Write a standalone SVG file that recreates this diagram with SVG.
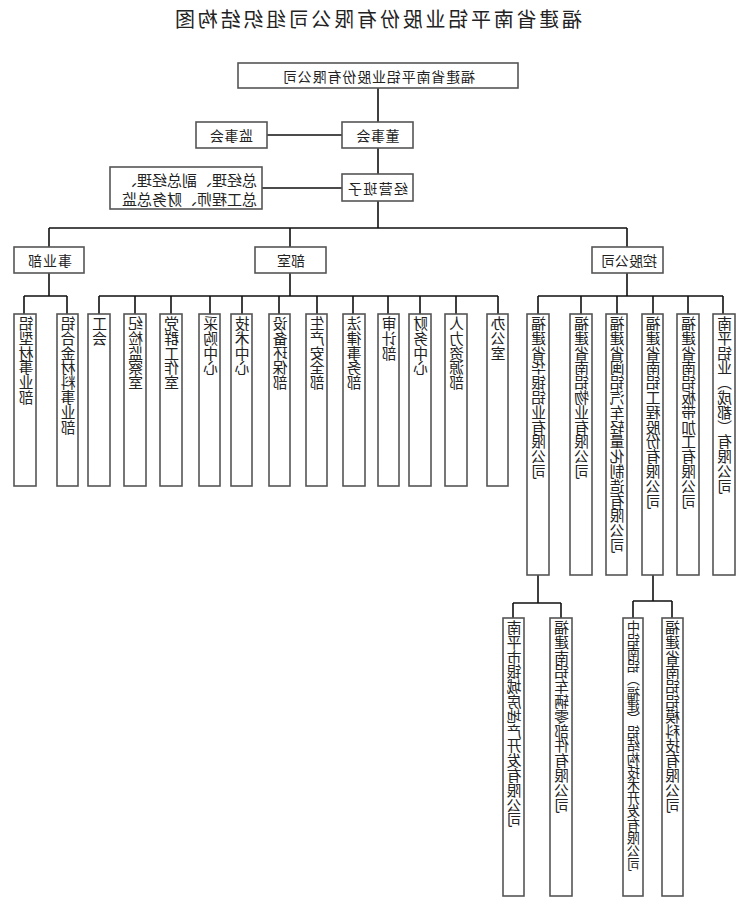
<svg xmlns="http://www.w3.org/2000/svg" width="737" height="900" viewBox="0 0 737 900">
<style>
  .bg { fill: #ffffff; }
  .box { fill: #ffffff; stroke: #555555; stroke-width: 1.6; }
  .con { fill: none; stroke: #111111; stroke-width: 1.6; }
  text { font-family: "Noto Sans CJK SC", "Noto Sans CJK TC", "DejaVu Sans", sans-serif; fill: #222222; }
  .h { font-size: 14px; text-anchor: middle; dominant-baseline: central; }
  .title { font-size: 20px; text-anchor: middle; dominant-baseline: central; }
  .mg { font-size: 15px; text-anchor: start; dominant-baseline: central; }
  .v { font-size: 14.8px; writing-mode: vertical-rl; text-anchor: start; }
  .vs { font-size: 13.2px; writing-mode: vertical-rl; text-anchor: start; }
</style>
<rect class="bg" x="0" y="0" width="737" height="900"/>

<text class="title" x="-378.5" y="18" transform="scale(-1,1)" textLength="407" lengthAdjust="spacing">福建省南平铝业股份有限公司组织结构图</text>

<g id="connectors">
  <path class="con" d="M378 88 V122 M378 148 V174 M267 135 H342 M262 188 H342 M378 201 V228 M49 228 H627 M49 228 V247 M290 228 V247 M627 228 V247"/>
  <path class="con" d="M49 273 V296 M24 296 H67 M24 296 V314 M67 296 V314"/>
  <path class="con" d="M290 273 V296 M99 296 H498 M99 296 V314 M135 296 V314 M171 296 V314 M210 296 V314 M242 296 V314 M279 296 V314 M317 296 V314 M353 296 V314 M388 296 V314 M420 296 V314 M456 296 V314 M498 296 V314"/>
  <path class="con" d="M627 273 V296 M538 296 H723 M538 296 V314 M581 296 V314 M617 296 V314 M653 296 V314 M688 296 V314 M723 296 V314"/>
  <path class="con" d="M538 575 V603 M513 603 H561 M513 603 V618 M561 603 V618"/>
  <path class="con" d="M653 575 V601 M633 601 H672 M633 601 V618 M672 601 V618"/>
</g>

<g id="n-top">
  <rect class="box" x="238" y="63" width="280" height="25"/>
  <text class="h" x="-379" y="76" transform="scale(-1,1)" textLength="192" lengthAdjust="spacing">福建省南平铝业股份有限公司</text>
</g>
<g id="n-dongshihui">
  <rect class="box" x="342" y="122" width="71" height="26"/>
  <text class="h" x="-378" y="135" transform="scale(-1,1)" textLength="43" lengthAdjust="spacing">董事会</text>
</g>
<g id="n-jianshihui">
  <rect class="box" x="196" y="122" width="71" height="26"/>
  <text class="h" x="-231.5" y="135" transform="scale(-1,1)" textLength="43" lengthAdjust="spacing">监事会</text>
</g>
<g id="n-jingying">
  <rect class="box" x="342" y="174" width="71" height="27"/>
  <text class="h" x="-378" y="187.5" transform="scale(-1,1)" textLength="60" lengthAdjust="spacing">经营班子</text>
</g>
<g id="n-managers">
  <rect class="box" x="110" y="167" width="152" height="42"/>
  <text class="mg" x="-257" y="179" transform="scale(-1,1)" textLength="135" lengthAdjust="spacing">总经理、副总经理、</text>
  <text class="mg" x="-257" y="198" transform="scale(-1,1)" textLength="135" lengthAdjust="spacing">总工程师、财务总监</text>
</g>

<g id="n-shiyebu">
  <rect class="box" x="14" y="247" width="70" height="26"/>
  <text class="h" x="-50" y="260" transform="scale(-1,1)" textLength="44" lengthAdjust="spacing">事业部</text>
</g>
<g id="n-bushi">
  <rect class="box" x="255" y="247" width="71" height="26"/>
  <text class="h" x="-291" y="260" transform="scale(-1,1)" textLength="28" lengthAdjust="spacing">部室</text>
</g>
<g id="n-konggu">
  <rect class="box" x="592" y="247" width="71" height="26"/>
  <text class="h" x="-629" y="260" transform="scale(-1,1)" textLength="56" lengthAdjust="spacing">控股公司</text>
</g>

<g id="n-lxc">
  <rect class="box" x="14" y="314" width="22" height="172"/>
  <text class="v" x="-26" y="316" transform="scale(-1,1)">铝型材事业部</text>
</g>
<g id="n-lhj">
  <rect class="box" x="57" y="314" width="21" height="172"/>
  <text class="v" x="-68" y="316" transform="scale(-1,1)">铝合金材料事业部</text>
</g>

<g id="n-gonghui">
  <rect class="box" x="88" y="314" width="22" height="172"/>
  <text class="v" x="-99.5" y="316" transform="scale(-1,1)">工会</text>
</g>
<g id="n-jijian">
  <rect class="box" x="124" y="314" width="22" height="172"/>
  <text class="v" x="-135.5" y="316" transform="scale(-1,1)">纪检监察室</text>
</g>
<g id="n-dangqun">
  <rect class="box" x="160" y="314" width="22" height="172"/>
  <text class="v" x="-171.5" y="316" transform="scale(-1,1)">党群工作室</text>
</g>
<g id="n-caigou">
  <rect class="box" x="199" y="314" width="21" height="172"/>
  <text class="v" x="-210.5" y="316" transform="scale(-1,1)">采购中心</text>
</g>
<g id="n-jishu">
  <rect class="box" x="231" y="314" width="21" height="172"/>
  <text class="v" x="-242" y="316" transform="scale(-1,1)">技术中心</text>
</g>
<g id="n-shebei">
  <rect class="box" x="269" y="314" width="21" height="172"/>
  <text class="v" x="-280" y="316" transform="scale(-1,1)">设备环保部</text>
</g>
<g id="n-anquan">
  <rect class="box" x="306" y="314" width="21" height="172"/>
  <text class="v" x="-317" y="316" transform="scale(-1,1)">生产安全部</text>
</g>
<g id="n-falv">
  <rect class="box" x="343" y="314" width="22" height="172"/>
  <text class="v" x="-354" y="316" transform="scale(-1,1)">法律事务部</text>
</g>
<g id="n-shenji">
  <rect class="box" x="378" y="314" width="21" height="172"/>
  <text class="v" x="-389" y="316" transform="scale(-1,1)">审计部</text>
</g>
<g id="n-caiwu">
  <rect class="box" x="409" y="314" width="22" height="172"/>
  <text class="v" x="-420.5" y="316" transform="scale(-1,1)">财务中心</text>
</g>
<g id="n-renli">
  <rect class="box" x="445" y="314" width="22" height="172"/>
  <text class="v" x="-456.5" y="316" transform="scale(-1,1)">人力资源部</text>
</g>
<g id="n-bangong">
  <rect class="box" x="487" y="314" width="21" height="172"/>
  <text class="v" x="-498" y="316" transform="scale(-1,1)">办公室</text>
</g>

<g id="n-huayin">
  <rect class="box" x="527" y="314" width="22" height="261"/>
  <text class="v" x="-538.5" y="316" transform="scale(-1,1)">福建省华银铝业有限公司</text>
</g>
<g id="n-wuye">
  <rect class="box" x="570" y="314" width="22" height="261"/>
  <text class="v" x="-581.5" y="316" transform="scale(-1,1)">福建省南铝物业有限公司</text>
</g>
<g id="n-qiche">
  <rect class="box" x="606" y="314" width="21" height="261"/>
  <text class="v" x="-617" y="316" transform="scale(-1,1)">福建省闽铝汽车轻量化制造有限公司</text>
</g>
<g id="n-gongcheng">
  <rect class="box" x="642" y="314" width="21" height="261"/>
  <text class="v" x="-653" y="316" transform="scale(-1,1)">福建省南铝工程股份有限公司</text>
</g>
<g id="n-bandai">
  <rect class="box" x="677" y="314" width="22" height="261"/>
  <text class="v" x="-688.5" y="316" transform="scale(-1,1)">福建省南铝板带加工有限公司</text>
</g>
<g id="n-chengdu">
  <rect class="box" x="713" y="314" width="22" height="261"/>
  <text class="v" x="-724.5" y="316" transform="scale(-1,1)">南平铝业（成都）有限公司</text>
</g>

<g id="n-yincheng">
  <rect class="box" x="503" y="618" width="21" height="278"/>
  <text class="v" x="-514" y="620" transform="scale(-1,1)">南平市银城房地产开发有限公司</text>
</g>
<g id="n-cheliang">
  <rect class="box" x="550" y="618" width="22" height="278"/>
  <text class="v" x="-561.5" y="620" transform="scale(-1,1)">福建南铝车辆零部件有限公司</text>
</g>
<g id="n-jiegou">
  <rect class="box" x="623" y="618" width="20" height="278"/>
  <text class="vs" x="-633.5" y="620" transform="scale(-1,1)">中铝南铝（福建）铝结构技术开发有限公司</text>
</g>
<g id="n-lvmo">
  <rect class="box" x="662" y="618" width="21" height="278"/>
  <text class="v" x="-672.5" y="620" transform="scale(-1,1)">福建省南铝铝模科技有限公司</text>
</g>
</svg>
